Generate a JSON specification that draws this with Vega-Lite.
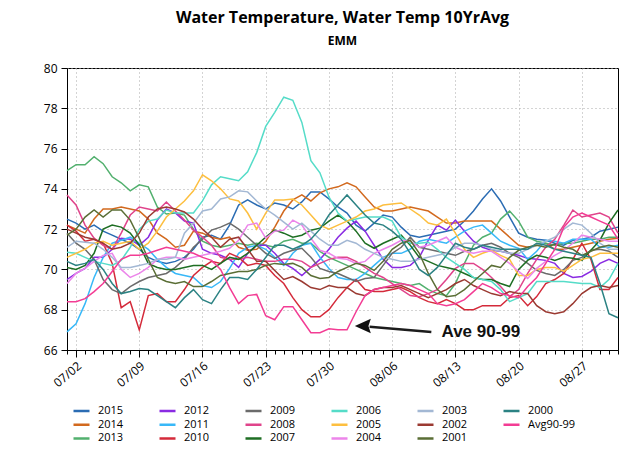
{
  "$schema": "https://vega.github.io/schema/vega-lite/v6.json",
  "width": 551,
  "height": 282,
  "autosize": {"type": "none"},
  "padding": {"left": 67, "top": 68, "right": 4, "bottom": 103},
  "title": {
    "text": "Water Temperature, Water Temp 10YrAvg",
    "subtitle": "EMM",
    "anchor": "middle",
    "font": "Open Sans",
    "fontSize": 16,
    "fontWeight": "bold",
    "color": "black",
    "subtitleFont": "Open Sans",
    "subtitleFontSize": 12,
    "subtitleFontWeight": "bold",
    "subtitleColor": "black",
    "subtitlePadding": 10,
    "offset": 15
  },
  "config": {
    "view": {"stroke": "black", "strokeWidth": 1},
    "font": "Open Sans",
    "axis": {
      "labelFont": "Open Sans",
      "labelFontSize": 12,
      "labelColor": "black",
      "domainColor": "black",
      "tickColor": "black",
      "gridColor": "#a8a8a8",
      "gridDash": [1, 3],
      "titleColor": "black"
    }
  },
  "datasets": {
    "temps": [
      {"date": "2015-07-01", "2015": 72.5, "2014": 72.2, "2013": 74.9, "2012": 69.5, "2011": 66.9, "2010": 72.2, "2009": 71.8, "2008": 73.7, "2007": 70.1, "2006": 70.85, "2005": 70.6, "2004": 69.3, "2003": 71.1, "2002": 72.0, "2001": 71.7, "2000": 70.4, "Avg90-99": 68.4},
      {"date": "2015-07-02", "2015": 72.3, "2014": 72.0, "2013": 75.2, "2012": 69.8, "2011": 67.3, "2010": 71.9, "2009": 71.3, "2008": 73.2, "2007": 70.0, "2006": 70.8, "2005": 70.8, "2004": 69.8, "2003": 71.4, "2002": 71.8, "2001": 72.0, "2000": 70.2, "Avg90-99": 68.4},
      {"date": "2015-07-03", "2015": 72.0, "2014": 71.8, "2013": 75.2, "2012": 70.05, "2011": 68.3, "2010": 71.4, "2009": 71.0, "2008": 72.2, "2007": 70.2, "2006": 70.6, "2005": 71.0, "2004": 70.05, "2003": 71.35, "2002": 71.6, "2001": 72.6, "2000": 70.3, "Avg90-99": 68.55},
      {"date": "2015-07-04", "2015": 72.2, "2014": 72.5, "2013": 75.6, "2012": 70.6, "2011": 69.6, "2010": 71.5, "2009": 70.5, "2008": 71.55, "2007": 70.8, "2006": 70.4, "2005": 71.3, "2004": 70.4, "2003": 71.3, "2002": 71.5, "2001": 72.95, "2000": 70.5, "Avg90-99": 68.9},
      {"date": "2015-07-05", "2015": 71.9, "2014": 73.0, "2013": 75.25, "2012": 70.6, "2011": 70.6, "2010": 71.3, "2009": 69.5, "2008": 71.2, "2007": 72.0, "2006": 70.3, "2005": 71.4, "2004": 70.7, "2003": 71.0, "2002": 71.3, "2001": 72.6, "2000": 70.0, "Avg90-99": 69.3},
      {"date": "2015-07-06", "2015": 71.7, "2014": 73.0, "2013": 74.6, "2012": 71.0, "2011": 71.3, "2010": 70.3, "2009": 69.0, "2008": 71.0, "2007": 72.2, "2006": 70.2, "2005": 71.2, "2004": 70.8, "2003": 70.6, "2002": 71.0, "2001": 72.95, "2000": 69.3, "Avg90-99": 69.9},
      {"date": "2015-07-07", "2015": 71.5, "2014": 73.1, "2013": 74.3, "2012": 71.55, "2011": 71.45, "2010": 68.1, "2009": 68.8, "2008": 71.8, "2007": 72.1, "2006": 70.45, "2005": 71.3, "2004": 70.0, "2003": 70.1, "2002": 71.1, "2001": 72.95, "2000": 68.8, "Avg90-99": 70.5},
      {"date": "2015-07-08", "2015": 71.3, "2014": 73.0, "2013": 73.9, "2012": 71.5, "2011": 71.6, "2010": 68.4, "2009": 69.15, "2008": 72.7, "2007": 71.8, "2006": 71.1, "2005": 71.4, "2004": 69.6, "2003": 70.1, "2002": 71.3, "2001": 72.45, "2000": 68.9, "Avg90-99": 70.7},
      {"date": "2015-07-09", "2015": 71.0, "2014": 72.9, "2013": 74.2, "2012": 71.2, "2011": 71.3, "2010": 67.0, "2009": 69.4, "2008": 73.1, "2007": 71.2, "2006": 72.0, "2005": 71.0, "2004": 69.8, "2003": 70.2, "2002": 71.8, "2001": 71.55, "2000": 69.05, "Avg90-99": 70.7},
      {"date": "2015-07-10", "2015": 70.6, "2014": 72.5, "2013": 74.1, "2012": 71.6, "2011": 71.0, "2010": 68.7, "2009": 69.6, "2008": 73.0, "2007": 70.3, "2006": 72.4, "2005": 71.3, "2004": 70.1, "2003": 70.3, "2002": 72.6, "2001": 70.5, "2000": 69.0, "Avg90-99": 70.8},
      {"date": "2015-07-11", "2015": 70.4, "2014": 71.8, "2013": 73.1, "2012": 72.45, "2011": 70.5, "2010": 68.8, "2009": 69.7, "2008": 72.9, "2007": 70.1, "2006": 72.5, "2005": 71.9, "2004": 70.5, "2003": 70.5, "2002": 73.0, "2001": 69.6, "2000": 68.7, "Avg90-99": 70.95},
      {"date": "2015-07-12", "2015": 70.3, "2014": 71.5, "2013": 72.75, "2012": 73.0, "2011": 70.1, "2010": 68.4, "2009": 69.8, "2008": 73.35, "2007": 70.0, "2006": 72.95, "2005": 72.6, "2004": 70.6, "2003": 70.5, "2002": 73.1, "2001": 69.4, "2000": 68.4, "Avg90-99": 71.1},
      {"date": "2015-07-13", "2015": 70.4, "2014": 71.1, "2013": 72.8, "2012": 72.8, "2011": 69.8, "2010": 68.4, "2009": 70.1, "2008": 72.9, "2007": 70.0, "2006": 72.8, "2005": 73.0, "2004": 70.6, "2003": 70.6, "2002": 73.0, "2001": 69.3, "2000": 68.1, "Avg90-99": 71.0},
      {"date": "2015-07-14", "2015": 70.6, "2014": 71.2, "2013": 72.7, "2012": 72.4, "2011": 69.7, "2010": 69.0, "2009": 70.5, "2008": 72.45, "2007": 70.1, "2006": 72.8, "2005": 73.4, "2004": 70.5, "2003": 71.8, "2002": 72.85, "2001": 69.4, "2000": 68.6, "Avg90-99": 70.9},
      {"date": "2015-07-15", "2015": 71.0, "2014": 71.9, "2013": 72.0, "2012": 72.3, "2011": 69.6, "2010": 69.7, "2009": 71.1, "2008": 71.95, "2007": 70.2, "2006": 72.8, "2005": 73.9, "2004": 70.6, "2003": 72.3, "2002": 72.5, "2001": 69.15, "2000": 69.0, "Avg90-99": 70.8},
      {"date": "2015-07-16", "2015": 71.6, "2014": 71.8, "2013": 71.4, "2012": 71.0, "2011": 69.2, "2010": 70.1, "2009": 71.5, "2008": 71.6, "2007": 70.2, "2006": 73.4, "2005": 74.7, "2004": 70.7, "2003": 72.9, "2002": 72.0, "2001": 69.15, "2000": 68.5, "Avg90-99": 70.6},
      {"date": "2015-07-17", "2015": 71.7, "2014": 71.6, "2013": 71.2, "2012": 70.8, "2011": 69.1, "2010": 70.4, "2009": 71.95, "2008": 71.2, "2007": 70.0, "2006": 74.2, "2005": 74.4, "2004": 70.8, "2003": 73.0, "2002": 71.6, "2001": 69.4, "2000": 68.3, "Avg90-99": 70.45},
      {"date": "2015-07-18", "2015": 71.5, "2014": 71.5, "2013": 71.1, "2012": 70.7, "2011": 69.4, "2010": 70.3, "2009": 72.1, "2008": 70.6, "2007": 70.3, "2006": 74.6, "2005": 74.0, "2004": 70.9, "2003": 73.5, "2002": 71.1, "2001": 69.7, "2000": 69.0, "Avg90-99": 70.0},
      {"date": "2015-07-19", "2015": 72.2, "2014": 71.6, "2013": 71.2, "2012": 70.5, "2011": 70.05, "2010": 70.8, "2009": 72.3, "2008": 70.5, "2007": 70.6, "2006": 74.5, "2005": 73.5, "2004": 71.05, "2003": 73.6, "2002": 71.5, "2001": 69.8, "2000": 69.6, "Avg90-99": 69.1},
      {"date": "2015-07-20", "2015": 73.2, "2014": 71.1, "2013": 71.3, "2012": 70.1, "2011": 70.8, "2010": 70.6, "2009": 72.0, "2008": 70.5, "2007": 70.5, "2006": 74.4, "2005": 73.4, "2004": 71.45, "2003": 73.9, "2002": 71.6, "2001": 69.9, "2000": 69.6, "Avg90-99": 68.3},
      {"date": "2015-07-21", "2015": 73.45, "2014": 70.95, "2013": 71.2, "2012": 70.8, "2011": 71.1, "2010": 70.2, "2009": 71.6, "2008": 70.6, "2007": 70.8, "2006": 74.85, "2005": 72.8, "2004": 72.2, "2003": 73.85, "2002": 71.0, "2001": 69.9, "2000": 69.5, "Avg90-99": 68.7},
      {"date": "2015-07-22", "2015": 73.2, "2014": 71.0, "2013": 71.3, "2012": 71.2, "2011": 71.2, "2010": 70.3, "2009": 71.2, "2008": 70.5, "2007": 71.2, "2006": 75.8, "2005": 72.0, "2004": 72.3, "2003": 73.4, "2002": 70.4, "2001": 70.0, "2000": 70.0, "Avg90-99": 68.76},
      {"date": "2015-07-23", "2015": 73.0, "2014": 71.4, "2013": 71.2, "2012": 71.2, "2011": 71.0, "2010": 70.2, "2009": 70.8, "2008": 70.4, "2007": 71.6, "2006": 77.1, "2005": 72.8, "2004": 71.55, "2003": 73.0, "2002": 70.4, "2001": 70.2, "2000": 70.6, "Avg90-99": 67.7},
      {"date": "2015-07-24", "2015": 73.3, "2014": 72.1, "2013": 71.1, "2012": 70.8, "2011": 70.6, "2010": 69.7, "2009": 70.55, "2008": 70.4, "2007": 71.95, "2006": 77.8, "2005": 73.45, "2004": 71.9, "2003": 72.7, "2002": 69.95, "2001": 70.3, "2000": 71.2, "Avg90-99": 67.5},
      {"date": "2015-07-25", "2015": 73.2, "2014": 72.9, "2013": 71.4, "2012": 70.3, "2011": 70.2, "2010": 69.3, "2009": 70.8, "2008": 70.5, "2007": 71.8, "2006": 78.55, "2005": 73.45, "2004": 71.95, "2003": 72.35, "2002": 69.5, "2001": 70.25, "2000": 71.2, "Avg90-99": 68.15},
      {"date": "2015-07-26", "2015": 73.0, "2014": 73.45, "2013": 71.5, "2012": 70.05, "2011": 70.8, "2010": 68.6, "2009": 70.95, "2008": 70.5, "2007": 71.6, "2006": 78.4, "2005": 73.5, "2004": 72.45, "2003": 72.0, "2002": 69.65, "2001": 70.3, "2000": 71.0, "Avg90-99": 68.15},
      {"date": "2015-07-27", "2015": 73.35, "2014": 73.7, "2013": 71.3, "2012": 69.7, "2011": 71.2, "2010": 68.0, "2009": 71.05, "2008": 70.4, "2007": 71.7, "2006": 77.3, "2005": 73.2, "2004": 72.2, "2003": 72.3, "2002": 69.4, "2001": 70.1, "2000": 71.2, "Avg90-99": 67.5},
      {"date": "2015-07-28", "2015": 73.85, "2014": 73.4, "2013": 71.3, "2012": 70.1, "2011": 71.3, "2010": 67.65, "2009": 70.6, "2008": 70.1, "2007": 71.95, "2006": 75.4, "2005": 72.7, "2004": 71.55, "2003": 71.9, "2002": 69.1, "2001": 69.7, "2000": 71.5, "Avg90-99": 66.86},
      {"date": "2015-07-29", "2015": 73.85, "2014": 73.8, "2013": 70.9, "2012": 70.5, "2011": 70.6, "2010": 67.65, "2009": 70.05, "2008": 70.3, "2007": 72.05, "2006": 74.8, "2005": 72.2, "2004": 70.95, "2003": 71.5, "2002": 69.0, "2001": 69.55, "2000": 72.0, "Avg90-99": 66.86},
      {"date": "2015-07-30", "2015": 73.5, "2014": 74.0, "2013": 70.6, "2012": 71.0, "2011": 70.05, "2010": 68.0, "2009": 69.9, "2008": 70.5, "2007": 72.4, "2006": 73.6, "2005": 72.0, "2004": 70.8, "2003": 71.2, "2002": 69.2, "2001": 69.6, "2000": 72.7, "Avg90-99": 67.05},
      {"date": "2015-07-31", "2015": 73.1, "2014": 74.1, "2013": 70.4, "2012": 71.6, "2011": 69.6, "2010": 68.6, "2009": 69.8, "2008": 70.6, "2007": 72.7, "2006": 72.8, "2005": 72.2, "2004": 70.55, "2003": 71.2, "2002": 69.1, "2001": 69.9, "2000": 73.2, "Avg90-99": 67.0},
      {"date": "2015-08-01", "2015": 72.8, "2014": 74.3, "2013": 70.2, "2012": 72.05, "2011": 69.5, "2010": 69.1, "2009": 69.6, "2008": 70.6, "2007": 72.4, "2006": 72.4, "2005": 72.4, "2004": 70.5, "2003": 71.45, "2002": 69.1, "2001": 70.1, "2000": 73.7, "Avg90-99": 67.0},
      {"date": "2015-08-02", "2015": 72.2, "2014": 74.1, "2013": 70.0, "2012": 72.4, "2011": 69.5, "2010": 69.5, "2009": 69.4, "2008": 70.4, "2007": 71.9, "2006": 72.5, "2005": 72.6, "2004": 70.3, "2003": 71.3, "2002": 68.8, "2001": 70.3, "2000": 73.2, "Avg90-99": 67.9},
      {"date": "2015-08-03", "2015": 71.9, "2014": 73.6, "2013": 69.8, "2012": 71.9, "2011": 69.8, "2010": 69.0, "2009": 69.55, "2008": 70.1, "2007": 71.3, "2006": 72.6, "2005": 72.9, "2004": 70.4, "2003": 71.0, "2002": 68.7, "2001": 70.2, "2000": 72.7, "Avg90-99": 68.7},
      {"date": "2015-08-04", "2015": 72.3, "2014": 73.1, "2013": 69.6, "2012": 71.2, "2011": 70.2, "2010": 68.9, "2009": 69.6, "2008": 69.8, "2007": 71.05, "2006": 72.6, "2005": 73.0, "2004": 70.8, "2003": 70.8, "2002": 69.0, "2001": 69.95, "2000": 72.3, "Avg90-99": 69.0},
      {"date": "2015-08-05", "2015": 72.7, "2014": 72.9, "2013": 69.5, "2012": 70.5, "2011": 70.6, "2010": 68.9, "2009": 70.2, "2008": 69.6, "2007": 71.3, "2006": 72.6, "2005": 73.2, "2004": 71.0, "2003": 70.6, "2002": 69.1, "2001": 70.4, "2000": 72.2, "Avg90-99": 69.1},
      {"date": "2015-08-06", "2015": 72.6, "2014": 72.9, "2013": 69.4, "2012": 70.1, "2011": 70.8, "2010": 69.0, "2009": 70.8, "2008": 69.3, "2007": 71.5, "2006": 72.4, "2005": 73.25, "2004": 71.2, "2003": 70.5, "2002": 69.1, "2001": 71.0, "2000": 71.9, "Avg90-99": 69.2},
      {"date": "2015-08-07", "2015": 72.1, "2014": 73.0, "2013": 69.3, "2012": 70.1, "2011": 70.8, "2010": 69.1, "2009": 71.1, "2008": 69.0, "2007": 71.7, "2006": 71.6, "2005": 73.3, "2004": 71.45, "2003": 70.4, "2002": 69.2, "2001": 71.3, "2000": 71.5, "Avg90-99": 69.3},
      {"date": "2015-08-08", "2015": 71.7, "2014": 73.1, "2013": 69.2, "2012": 70.2, "2011": 71.0, "2010": 68.9, "2009": 71.6, "2008": 68.7, "2007": 71.2, "2006": 71.3, "2005": 73.0, "2004": 71.4, "2003": 70.4, "2002": 69.0, "2001": 71.45, "2000": 70.8, "Avg90-99": 69.2},
      {"date": "2015-08-09", "2015": 71.6, "2014": 73.0, "2013": 69.3, "2012": 70.6, "2011": 71.4, "2010": 68.6, "2009": 71.1, "2008": 68.65, "2007": 70.6, "2006": 71.3, "2005": 72.7, "2004": 71.1, "2003": 70.5, "2002": 68.8, "2001": 70.8, "2000": 70.0, "Avg90-99": 69.0},
      {"date": "2015-08-10", "2015": 71.7, "2014": 72.9, "2013": 69.0, "2012": 71.45, "2011": 71.5, "2010": 68.4, "2009": 71.0, "2008": 68.8, "2007": 70.4, "2006": 71.35, "2005": 72.3, "2004": 71.2, "2003": 70.6, "2002": 68.6, "2001": 69.8, "2000": 69.7, "Avg90-99": 68.8},
      {"date": "2015-08-11", "2015": 71.8, "2014": 72.6, "2013": 68.8, "2012": 72.2, "2011": 71.4, "2010": 68.3, "2009": 70.9, "2008": 69.0, "2007": 70.2, "2006": 71.0, "2005": 72.2, "2004": 71.4, "2003": 70.7, "2002": 68.8, "2001": 69.0, "2000": 70.1, "Avg90-99": 68.3},
      {"date": "2015-08-12", "2015": 71.9, "2014": 72.3, "2013": 68.7, "2012": 71.95, "2011": 71.3, "2010": 68.5, "2009": 70.8, "2008": 69.5, "2007": 70.1, "2006": 70.6, "2005": 72.5, "2004": 71.6, "2003": 70.8, "2002": 69.0, "2001": 68.65, "2000": 70.7, "Avg90-99": 68.2},
      {"date": "2015-08-13", "2015": 72.0, "2014": 72.3, "2013": 69.3, "2012": 72.45, "2011": 71.6, "2010": 68.3, "2009": 70.7, "2008": 70.05, "2007": 70.0, "2006": 70.3, "2005": 71.8, "2004": 71.1, "2003": 71.1, "2002": 69.3, "2001": 68.7, "2000": 71.3, "Avg90-99": 68.3},
      {"date": "2015-08-14", "2015": 72.4, "2014": 72.4, "2013": 70.3, "2012": 71.9, "2011": 71.9, "2010": 68.0, "2009": 70.9, "2008": 70.3, "2007": 69.8, "2006": 70.0, "2005": 71.0, "2004": 70.9, "2003": 71.3, "2002": 69.5, "2001": 69.0, "2000": 71.1, "Avg90-99": 68.5},
      {"date": "2015-08-15", "2015": 72.9, "2014": 72.4, "2013": 71.2, "2012": 71.4, "2011": 72.1, "2010": 68.0, "2009": 71.0, "2008": 70.3, "2007": 69.6, "2006": 69.6, "2005": 70.6, "2004": 70.8, "2003": 71.3, "2002": 69.2, "2001": 69.4, "2000": 71.0, "Avg90-99": 68.9},
      {"date": "2015-08-16", "2015": 73.5, "2014": 72.4, "2013": 71.6, "2012": 71.1, "2011": 72.2, "2010": 68.2, "2009": 71.2, "2008": 70.0, "2007": 69.5, "2006": 69.5, "2005": 70.8, "2004": 70.9, "2003": 71.2, "2002": 69.0, "2001": 69.8, "2000": 71.2, "Avg90-99": 69.3},
      {"date": "2015-08-17", "2015": 74.0, "2014": 72.4, "2013": 71.8, "2012": 70.95, "2011": 71.8, "2010": 68.2, "2009": 71.3, "2008": 69.6, "2007": 69.5, "2006": 69.4, "2005": 70.95, "2004": 70.9, "2003": 71.0, "2002": 68.8, "2001": 70.2, "2000": 71.1, "Avg90-99": 69.1},
      {"date": "2015-08-18", "2015": 73.4, "2014": 72.0, "2013": 72.5, "2012": 70.9, "2011": 71.4, "2010": 68.2, "2009": 71.1, "2008": 69.15, "2007": 69.3, "2006": 69.0, "2005": 70.7, "2004": 70.6, "2003": 70.9, "2002": 68.7, "2001": 70.1, "2000": 71.0, "Avg90-99": 68.8},
      {"date": "2015-08-19", "2015": 72.6, "2014": 71.6, "2013": 72.9, "2012": 70.8, "2011": 71.2, "2010": 68.6, "2009": 70.8, "2008": 68.65, "2007": 69.15, "2006": 68.4, "2005": 70.5, "2004": 70.3, "2003": 70.8, "2002": 68.9, "2001": 70.6, "2000": 71.0, "Avg90-99": 68.7},
      {"date": "2015-08-20", "2015": 71.8, "2014": 71.2, "2013": 72.4, "2012": 70.7, "2011": 71.05, "2010": 68.7, "2009": 70.6, "2008": 69.0, "2007": 70.0, "2006": 68.6, "2005": 69.7, "2004": 69.9, "2003": 70.8, "2002": 68.8, "2001": 70.95, "2000": 71.0, "Avg90-99": 68.6},
      {"date": "2015-08-21", "2015": 71.6, "2014": 71.1, "2013": 71.6, "2012": 70.55, "2011": 70.5, "2010": 68.2, "2009": 70.3, "2008": 69.8, "2007": 70.45, "2006": 68.8, "2005": 69.7, "2004": 69.55, "2003": 71.0, "2002": 68.8, "2001": 71.1, "2000": 71.0, "Avg90-99": 69.15},
      {"date": "2015-08-22", "2015": 71.5, "2014": 71.2, "2013": 71.4, "2012": 70.5, "2011": 70.9, "2010": 68.65, "2009": 69.95, "2008": 70.5, "2007": 70.7, "2006": 69.4, "2005": 70.0, "2004": 70.05, "2003": 71.2, "2002": 68.2, "2001": 71.2, "2000": 71.3, "Avg90-99": 69.6},
      {"date": "2015-08-23", "2015": 71.45, "2014": 71.3, "2013": 71.3, "2012": 70.45, "2011": 71.45, "2010": 69.3, "2009": 69.8, "2008": 71.1, "2007": 70.6, "2006": 69.4, "2005": 70.1, "2004": 70.4, "2003": 71.4, "2002": 67.9, "2001": 71.1, "2000": 71.2, "Avg90-99": 70.3},
      {"date": "2015-08-24", "2015": 71.3, "2014": 71.0, "2013": 71.2, "2012": 70.3, "2011": 71.4, "2010": 69.5, "2009": 69.7, "2008": 71.5, "2007": 70.45, "2006": 69.4, "2005": 70.1, "2004": 70.7, "2003": 71.6, "2002": 67.8, "2001": 71.25, "2000": 71.0, "Avg90-99": 71.0},
      {"date": "2015-08-25", "2015": 71.2, "2014": 71.0, "2013": 71.3, "2012": 69.8, "2011": 71.3, "2010": 69.8, "2009": 70.0, "2008": 72.2, "2007": 70.6, "2006": 69.4, "2005": 69.9, "2004": 70.95, "2003": 72.0, "2002": 67.9, "2001": 71.1, "2000": 70.9, "Avg90-99": 72.1},
      {"date": "2015-08-26", "2015": 71.45, "2014": 71.1, "2013": 71.3, "2012": 69.6, "2011": 71.5, "2010": 70.5, "2009": 70.45, "2008": 72.95, "2007": 70.55, "2006": 69.35, "2005": 70.2, "2004": 71.3, "2003": 72.3, "2002": 68.3, "2001": 71.0, "2000": 70.8, "Avg90-99": 72.6},
      {"date": "2015-08-27", "2015": 71.5, "2014": 71.2, "2013": 71.4, "2012": 69.65, "2011": 71.5, "2010": 71.3, "2009": 70.6, "2008": 72.6, "2007": 70.45, "2006": 69.3, "2005": 70.5, "2004": 71.7, "2003": 72.2, "2002": 68.8, "2001": 70.7, "2000": 70.7, "Avg90-99": 72.8},
      {"date": "2015-08-28", "2015": 71.6, "2014": 71.3, "2013": 71.5, "2012": 69.9, "2011": 71.5, "2010": 70.5, "2009": 70.95, "2008": 72.7, "2007": 70.95, "2006": 69.3, "2005": 70.6, "2004": 71.6, "2003": 71.8, "2002": 69.1, "2001": 70.9, "2000": 70.6, "Avg90-99": 72.6},
      {"date": "2015-08-29", "2015": 71.9, "2014": 71.4, "2013": 71.5, "2012": 70.3, "2011": 71.1, "2010": 69.0, "2009": 71.0, "2008": 72.8, "2007": 71.45, "2006": 69.1, "2005": 70.8, "2004": 71.5, "2003": 71.3, "2002": 69.2, "2001": 71.1, "2000": 69.3, "Avg90-99": 72.4},
      {"date": "2015-08-30", "2015": 72.0, "2014": 71.5, "2013": 71.6, "2012": 70.5, "2011": 71.1, "2010": 69.0, "2009": 70.9, "2008": 72.6, "2007": 72.3, "2006": 69.5, "2005": 70.8, "2004": 71.4, "2003": 71.0, "2002": 69.1, "2001": 71.2, "2000": 67.8, "Avg90-99": 72.2},
      {"date": "2015-08-31", "2015": 72.1, "2014": 71.55, "2013": 71.6, "2012": 70.3, "2011": 71.2, "2010": 69.6, "2009": 70.6, "2008": 71.8, "2007": 72.95, "2006": 70.3, "2005": 70.8, "2004": 71.4, "2003": 71.0, "2002": 69.2, "2001": 71.1, "2000": 67.6, "Avg90-99": 71.5}
    ]
  },
  "layer": [
    {
      "data": {"name": "temps"},
      "transform": [
        {"fold": ["2015", "2014", "2013", "2012", "2011", "2010", "2009", "2008", "2007", "2006", "2005", "2004", "2003", "2002", "2001", "2000", "Avg90-99"], "as": ["series", "temp"]}
      ],
      "mark": {"type": "line", "strokeWidth": 1.5},
      "encoding": {
        "x": {
          "field": "date",
          "type": "temporal",
          "scale": {"type": "utc", "domain": [{"year": 2015, "month": 7, "date": 1, "utc": true}, {"year": 2015, "month": 8, "date": 31, "utc": true}]},
          "axis": {
            "title": null,
            "tickCount": {"interval": "day", "step": 1},
            "labelExpr": "(datum.value - utc(2015, 6, 2)) % 604800000 === 0 ? utcFormat(datum.value, '%m/%d') : ''",
            "labelAngle": -40,
            "labelOverlap": false,
            "labelFlush": false,
            "labelBound": false,
            "labelPadding": 3,
            "tickSize": {"condition": {"test": "(datum.value - utc(2015, 6, 2)) % 604800000 === 0", "value": 7}, "value": 4},
            "grid": true,
            "gridOpacity": {"condition": {"test": "(datum.value - utc(2015, 6, 2)) % 604800000 === 0", "value": 1}, "value": 0}
          }
        },
        "y": {
          "field": "temp",
          "type": "quantitative",
          "scale": {"domain": [66, 80], "nice": false, "zero": false},
          "axis": {
            "title": "WTemp / WTemp10YrAvg (F)",
            "titleFontSize": 13,
            "titleFontWeight": "bold",
            "titlePadding": 12,
            "values": [66, 68, 70, 72, 74, 76, 78, 80],
            "tickSize": 6,
            "labelPadding": 4,
            "grid": true
          }
        },
        "color": {
          "field": "series",
          "type": "nominal",
          "scale": {
            "domain": ["2015", "2014", "2013", "2012", "2011", "2010", "2009", "2008", "2007", "2006", "2005", "2004", "2003", "2002", "2001", "2000", "Avg90-99"],
            "range": ["#2b6cb3", "#d2691e", "#52b06e", "#8a2be2", "#38b8f8", "#d42a3a", "#6b6b6b", "#e0448b", "#1e6e23", "#55dcc8", "#fdbf3f", "#ec85ea", "#a3b8d4", "#9b3a32", "#5a6e35", "#2b8283", "#f33c94"]
          },
          "legend": {
            "title": null,
            "orient": "none",
            "legendX": 5,
            "legendY": 337,
            "columns": 6,
            "gridAlign": "all",
            "columnPadding": 12,
            "rowPadding": 1.7,
            "clipHeight": 12,
            "padding": 0,
            "symbolType": "stroke",
            "symbolSize": 256,
            "symbolStrokeWidth": 2.5,
            "labelFont": "Open Sans",
            "labelFontSize": 11,
            "labelColor": "black",
            "labelOffset": 7
          }
        }
      }
    },
    {
      "data": {"values": [{"t": "2015-08-03T12:00:00Z", "v": 67.16, "t2": "2015-08-10T08:00:00Z", "v2": 66.89}]},
      "mark": {"type": "rule", "color": "#1c1c1c", "strokeWidth": 2.5},
      "encoding": {
        "x": {"field": "t", "type": "temporal", "title": null},
        "y": {"field": "v", "type": "quantitative", "title": null},
        "x2": {"field": "t2"},
        "y2": {"field": "v2"}
      }
    },
    {
      "data": {"values": [{"t": "2015-08-02T18:00:00Z", "v": 67.19}]},
      "mark": {"type": "point", "filled": true, "color": "#111111", "opacity": 1, "size": 256, "shape": "M -1 0 L 1 -0.9 L 0.7 0 L 1 0.9 Z"},
      "encoding": {
        "x": {"field": "t", "type": "temporal", "title": null},
        "y": {"field": "v", "type": "quantitative", "title": null}
      }
    },
    {
      "data": {"values": [{"t": "2015-08-11T11:00:00Z", "v": 66.89, "label": "Ave 90-99"}]},
      "mark": {"type": "text", "align": "left", "baseline": "middle", "font": "Liberation Sans", "fontSize": 17, "fontWeight": "bold", "color": "#111111"},
      "encoding": {
        "x": {"field": "t", "type": "temporal", "title": null},
        "y": {"field": "v", "type": "quantitative", "title": null},
        "text": {"field": "label"}
      }
    }
  ]
}
